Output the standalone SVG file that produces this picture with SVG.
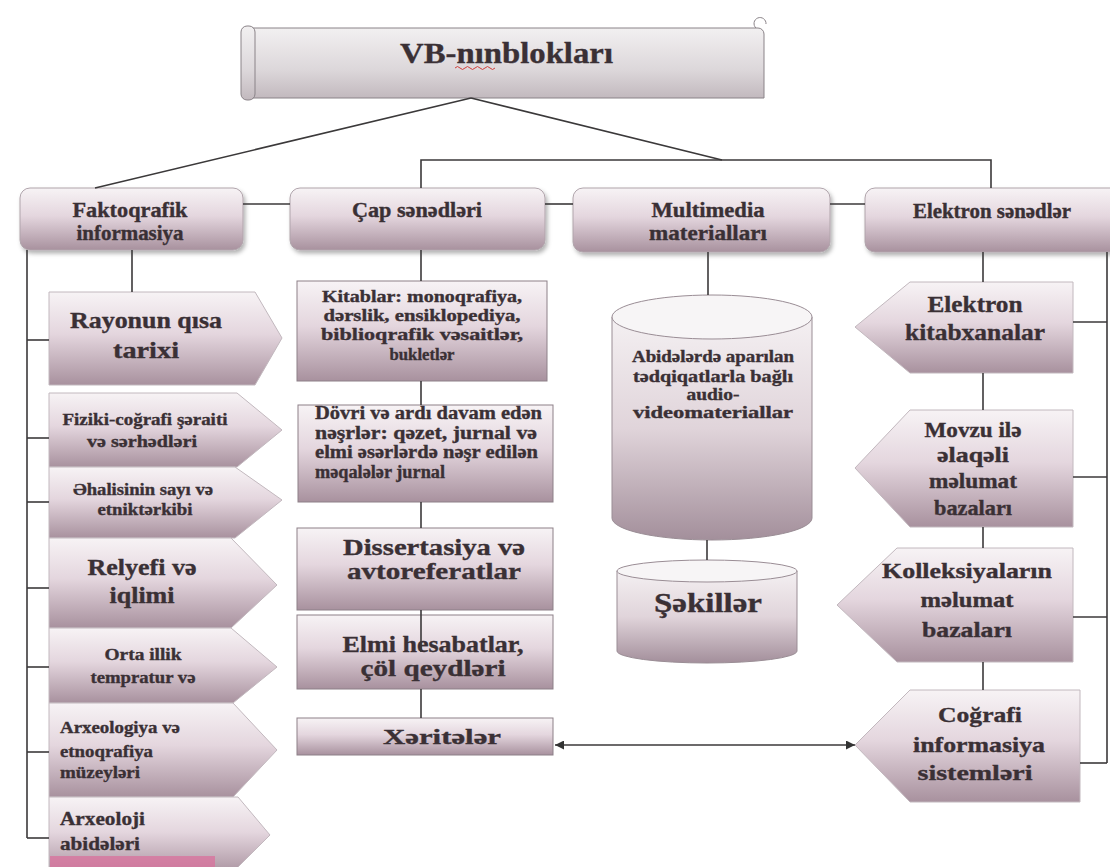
<svg xmlns="http://www.w3.org/2000/svg" width="1110" height="867" viewBox="0 0 1110 867">
<defs>
<linearGradient id="g" x1="0" y1="0" x2="0" y2="1"><stop offset="0" stop-color="#f7f3f5"/><stop offset="0.45" stop-color="#e4d6de"/><stop offset="1" stop-color="#a8919e"/></linearGradient>
<linearGradient id="gb" x1="0" y1="0" x2="0" y2="1"><stop offset="0" stop-color="#f2f0f1"/><stop offset="0.6" stop-color="#dcd7da"/><stop offset="1" stop-color="#c2b9be"/></linearGradient>
<linearGradient id="gc" x1="0" y1="0" x2="0" y2="1"><stop offset="0" stop-color="#f4f0f2"/><stop offset="0.5" stop-color="#e0d4da"/><stop offset="1" stop-color="#a38f9b"/></linearGradient>
<filter id="sh" x="-10%" y="-10%" width="130%" height="140%"><feDropShadow dx="2" dy="3" stdDeviation="2" flood-color="#000" flood-opacity="0.3"/></filter>
<marker id="ah" viewBox="0 0 10 10" refX="10" refY="5" markerWidth="9" markerHeight="9" markerUnits="userSpaceOnUse" orient="auto-start-reverse"><path d="M0,0 L10,5 L0,10 Z" fill="#333"/></marker>
</defs>
<style>
.t{font-family:"Liberation Serif","Times New Roman",serif;font-weight:bold;fill:#3a3035;stroke:#3a3035;stroke-width:0.35}
.m{text-anchor:middle}
.box{fill:url(#g);stroke:#b0a4ab;stroke-width:1;filter:url(#sh)}
.rbox{fill:url(#g);stroke:#8d8088;stroke-width:1}
.chev{fill:url(#g);stroke:#c2b8be;stroke-width:1}
.cyl{fill:url(#gc);stroke:#9a8d95;stroke-width:1}
.cap{fill:#f7f5f6;stroke:#9a8d95;stroke-width:1}
.ln{fill:none;stroke:#3b393a;stroke-width:1.6}
</style>
<rect width="1110" height="867" fill="#ffffff"/>

<g id="title">
<path d="M250,28 H758 A6,6 0 0 1 764,34 V98 H250 Z" fill="url(#gb)" stroke="#8a8388"/>
<rect x="241" y="26" width="14" height="74" rx="6" fill="url(#gb)" stroke="#8a8388"/>
<path d="M756,28 A6,6 0 1 1 766,24" fill="none" stroke="#8a8388"/>
<text class="t" x="400" y="63" font-size="30" textLength="213" lengthAdjust="spacingAndGlyphs">VB-nınblokları</text>
<path d="M455,68 q2.5,-3 5,0 t5,0 t5,0 t5,0 t5,0 t5,0 t5,0 t5,0" fill="none" stroke="#d0403c" stroke-width="1"/>
</g>

<g id="faktoqrafik">
<rect class="box" x="20" y="188" width="223" height="62" rx="10"/>
<text class="t m" x="130" y="217" font-size="20" textLength="115" lengthAdjust="spacingAndGlyphs">Faktoqrafik</text>
<text class="t m" x="130" y="240" font-size="20" textLength="107" lengthAdjust="spacingAndGlyphs">informasiya</text>
</g>
<g id="cap">
<rect class="box" x="290" y="188" width="255" height="62" rx="10"/>
<text class="t m" x="417" y="217" font-size="20" textLength="130" lengthAdjust="spacingAndGlyphs">Çap sənədləri</text>
</g>
<g id="multimedia">
<rect class="box" x="573" y="188" width="257" height="64" rx="10"/>
<text class="t m" x="708" y="217" font-size="20" textLength="113" lengthAdjust="spacingAndGlyphs">Multimedia</text>
<text class="t m" x="708" y="240" font-size="20" textLength="118" lengthAdjust="spacingAndGlyphs">materialları</text>
</g>
<g id="elektron">
<rect class="box" x="865" y="188" width="260" height="64" rx="10"/>
<text class="t m" x="992" y="218" font-size="20" textLength="158" lengthAdjust="spacingAndGlyphs">Elektron sənədlər</text>
</g>

<g id="rayonun">
<path class="chev" d="M49,292 H255 L282,338 L255,385 H49 Z"/>
<text class="t m" x="146" y="328" font-size="23" textLength="152" lengthAdjust="spacingAndGlyphs">Rayonun qısa</text>
<text class="t m" x="146" y="358" font-size="23" textLength="66" lengthAdjust="spacingAndGlyphs">tarixi</text>
</g>
<g id="fiziki">
<path class="chev" d="M49,393 H237 L282,430 L237,467 H49 Z"/>
<text class="t m" x="145" y="425" font-size="17" textLength="165" lengthAdjust="spacingAndGlyphs">Fiziki-coğrafi şəraiti</text>
<text class="t m" x="142" y="447" font-size="17" textLength="110" lengthAdjust="spacingAndGlyphs">və sərhədləri</text>
</g>
<g id="ehali">
<path class="chev" d="M49,467 H235 L282,500 L235,538 H49 Z"/>
<text class="t m" x="143" y="495" font-size="17" textLength="140" lengthAdjust="spacingAndGlyphs">Əhalisinin sayı və</text>
<text class="t m" x="145" y="515" font-size="17" textLength="95" lengthAdjust="spacingAndGlyphs">etniktərkibi</text>
</g>
<g id="relyef">
<path class="chev" d="M49,538 H231 L277,585 L231,628 H49 Z"/>
<text class="t m" x="142" y="575" font-size="23" textLength="109" lengthAdjust="spacingAndGlyphs">Relyefi və</text>
<text class="t m" x="142" y="603" font-size="23" textLength="65" lengthAdjust="spacingAndGlyphs">iqlimi</text>
</g>
<g id="orta">
<path class="chev" d="M49,628 H231 L277,667 L233,703 H49 Z"/>
<text class="t m" x="143" y="660" font-size="17" textLength="77" lengthAdjust="spacingAndGlyphs">Orta illik</text>
<text class="t m" x="143" y="683" font-size="17" textLength="105" lengthAdjust="spacingAndGlyphs">tempratur və</text>
</g>
<g id="arxeologiya">
<path class="chev" d="M49,703 H233 L277,750 L233,797 H49 Z"/>
<text class="t" x="60" y="733" font-size="17" textLength="120" lengthAdjust="spacingAndGlyphs">Arxeologiya və</text>
<text class="t" x="60" y="757" font-size="17" textLength="93" lengthAdjust="spacingAndGlyphs">etnoqrafiya</text>
<text class="t" x="60" y="778" font-size="17" textLength="80" lengthAdjust="spacingAndGlyphs">müzeyləri</text>
</g>
<g id="arxeoloji">
<path class="chev" d="M49,797 H238 L270,835 L230,875 H49 Z"/>
<rect x="50" y="856" width="165" height="12" fill="#d9709c" opacity="0.75"/>
<text class="t" x="60" y="825" font-size="19" textLength="85" lengthAdjust="spacingAndGlyphs">Arxeoloji</text>
<text class="t" x="60" y="850" font-size="19" textLength="80" lengthAdjust="spacingAndGlyphs">abidələri</text>
</g>

<g id="kitablar">
<rect class="rbox" x="297" y="281" width="250" height="100"/>
<text class="t m" x="422" y="302" font-size="16.5" textLength="200" lengthAdjust="spacingAndGlyphs">Kitablar: monoqrafiya,</text>
<text class="t m" x="422" y="321" font-size="16.5" textLength="197" lengthAdjust="spacingAndGlyphs">dərslik, ensiklopediya,</text>
<text class="t m" x="422" y="340" font-size="16.5" textLength="202" lengthAdjust="spacingAndGlyphs">biblioqrafik vəsaitlər,</text>
<text class="t m" x="422" y="360" font-size="16.5" textLength="65" lengthAdjust="spacingAndGlyphs">bukletlər</text>
</g>
<g id="dovri">
<rect class="rbox" x="298" y="405" width="255" height="97"/>
<text class="t" x="315" y="419" font-size="18" textLength="227" lengthAdjust="spacingAndGlyphs">Dövri və ardı davam edən</text>
<text class="t" x="315" y="439" font-size="18" textLength="222" lengthAdjust="spacingAndGlyphs">nəşrlər: qəzet, jurnal və</text>
<text class="t" x="315" y="458" font-size="18" textLength="223" lengthAdjust="spacingAndGlyphs">elmi əsərlərdə nəşr edilən</text>
<text class="t" x="315" y="478" font-size="18" textLength="130" lengthAdjust="spacingAndGlyphs">məqalələr jurnal</text>
</g>
<g id="dissertasiya">
<rect class="rbox" x="297" y="528" width="256" height="82"/>
<text class="t m" x="434" y="555" font-size="24" textLength="182" lengthAdjust="spacingAndGlyphs">Dissertasiya və</text>
<text class="t m" x="434" y="579" font-size="24" textLength="174" lengthAdjust="spacingAndGlyphs">avtoreferatlar</text>
</g>
<g id="elmi">
<rect class="rbox" x="297" y="615" width="256" height="74"/>
<text class="t m" x="433" y="652" font-size="24" textLength="181" lengthAdjust="spacingAndGlyphs">Elmi hesabatlar,</text>
<text class="t m" x="433" y="676" font-size="24" textLength="145" lengthAdjust="spacingAndGlyphs">çöl qeydləri</text>
</g>
<g id="xeriteler">
<rect class="rbox" x="297" y="718" width="256" height="37"/>
<text class="t m" x="442" y="744" font-size="22" textLength="118" lengthAdjust="spacingAndGlyphs">Xəritələr</text>
</g>

<g id="audio">
<path class="cyl" d="M612,317 V518 A100,22 0 0 0 812,518 V317 Z"/>
<ellipse class="cap" cx="712" cy="317" rx="100" ry="22"/>
<text class="t m" x="713" y="362" font-size="16" textLength="162" lengthAdjust="spacingAndGlyphs">Abidələrdə aparılan</text>
<text class="t m" x="713" y="382" font-size="16" textLength="160" lengthAdjust="spacingAndGlyphs">tədqiqatlarla bağlı</text>
<text class="t m" x="713" y="400" font-size="16" textLength="53" lengthAdjust="spacingAndGlyphs">audio-</text>
<text class="t m" x="713" y="418" font-size="16" textLength="160" lengthAdjust="spacingAndGlyphs">videomateriallar</text>
</g>
<g id="sekiller">
<path class="cyl" d="M617,571 V651 A90,12 0 0 0 797,651 V571 Z"/>
<ellipse class="cap" cx="707" cy="571" rx="90" ry="11"/>
<text class="t m" x="708" y="612" font-size="28" textLength="108" lengthAdjust="spacingAndGlyphs">Şəkillər</text>
</g>

<g id="ekitab">
<path class="chev" d="M910,282 H1073 V373 H910 L855,327 Z"/>
<text class="t m" x="975" y="312" font-size="24" textLength="95" lengthAdjust="spacingAndGlyphs">Elektron</text>
<text class="t m" x="975" y="340" font-size="24" textLength="140" lengthAdjust="spacingAndGlyphs">kitabxanalar</text>
</g>
<g id="movzu">
<path class="chev" d="M910,410 H1073 V527 H910 L855,468 Z"/>
<text class="t m" x="973" y="437" font-size="21" textLength="97" lengthAdjust="spacingAndGlyphs">Movzu ilə</text>
<text class="t m" x="973" y="462" font-size="21" textLength="72" lengthAdjust="spacingAndGlyphs">əlaqəli</text>
<text class="t m" x="973" y="488" font-size="21" textLength="88" lengthAdjust="spacingAndGlyphs">məlumat</text>
<text class="t m" x="973" y="515" font-size="21" textLength="78" lengthAdjust="spacingAndGlyphs">bazaları</text>
</g>
<g id="kolleksiya">
<path class="chev" d="M897,548 H1073 V662 H897 L837,605 Z"/>
<text class="t m" x="967" y="578" font-size="22" textLength="170" lengthAdjust="spacingAndGlyphs">Kolleksiyaların</text>
<text class="t m" x="967" y="607" font-size="22" textLength="93" lengthAdjust="spacingAndGlyphs">məlumat</text>
<text class="t m" x="967" y="637" font-size="22" textLength="90" lengthAdjust="spacingAndGlyphs">bazaları</text>
</g>
<g id="cografi">
<path class="chev" d="M910,690 H1080 V802 H910 L855,745 Z"/>
<text class="t m" x="980" y="722" font-size="22" textLength="84" lengthAdjust="spacingAndGlyphs">Coğrafi</text>
<text class="t m" x="979" y="752" font-size="22" textLength="132" lengthAdjust="spacingAndGlyphs">informasiya</text>
<text class="t m" x="975" y="780" font-size="22" textLength="115" lengthAdjust="spacingAndGlyphs">sistemləri</text>
</g>

<g id="connectors" class="ln">
<path d="M471,98 L95,188"/>
<path d="M471,98 L722,160"/>
<path d="M421,188 V160 H991 V188"/>
<path d="M243,204 H290"/>
<path d="M545,204 H573"/>
<path d="M830,204 H865"/>
<path d="M132,250 V292"/>
<path d="M27,250 V838"/>
<path d="M27,340 H49"/>
<path d="M27,438 H49"/>
<path d="M27,502 H49"/>
<path d="M27,588 H49"/>
<path d="M27,667 H49"/>
<path d="M27,752 H49"/>
<path d="M27,838 H49"/>
<path d="M421,250 V281"/>
<path d="M421,381 V405"/>
<path d="M421,502 V528"/>
<path d="M421,610 V652"/>
<path d="M421,689 V718"/>
<path d="M708,252 V295"/>
<path d="M707,540 V560"/>
<path d="M983,252 V282"/>
<path d="M983,373 V410"/>
<path d="M983,527 V548"/>
<path d="M983,662 V690"/>
<path d="M1107,252 V763"/>
<path d="M1073,322 H1107"/>
<path d="M1073,477 H1107"/>
<path d="M1073,617 H1107"/>
<path d="M1080,763 H1107"/>
<path d="M555,745 H855" marker-start="url(#ah)" marker-end="url(#ah)"/>
</g>
</svg>
